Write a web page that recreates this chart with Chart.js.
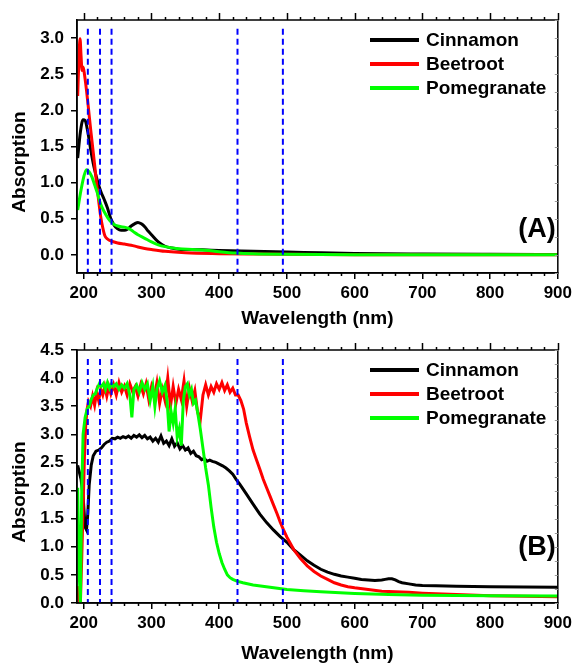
<!DOCTYPE html>
<html>
<head>
<meta charset="utf-8">
<script src="https://cdn.jsdelivr.net/npm/chart.js@4"></script>
<style>
  body { margin: 0; background: #fff; }
  canvas { position: absolute; left: 0; }
  #chartA { top: 0; }
  #chartB { top: 330px; }
</style>
</head>
<body>
<canvas id="chartA" width="576" height="330"></canvas>
<canvas id="chartB" width="576" height="336"></canvas>
<script>
const seriesNames = ["Cinnamon", "Beetroot", "Pomegranate"];
const seriesColors = ["#000000", "#ff0000", "#00ff00"];
const xTicks = [200, 300, 400, 500, 600, 700, 800, 900];
const yTicksA = [0, 0.5, 1, 1.5, 2, 2.5, 3];
const yTicksB = [0, 0.5, 1, 1.5, 2, 2.5, 3, 3.5, 4, 4.5];
const markerLines = [206, 224, 241, 427, 494];

// (A)
const wlCinA = [191,195,199,202,206,210,215,220,225,230,235,240,245,250,255,260,265,270,275,280,285,290,295,300,310,320,330,340,350,375,400,450,500,550,600,700,800,900];
const absCinA = [1.34,1.70,1.87,1.86,1.70,1.47,1.22,1.03,0.88,0.77,0.65,0.50,0.41,0.36,0.34,0.34,0.36,0.40,0.43,0.45,0.43,0.39,0.33,0.28,0.18,0.12,0.095,0.08,0.075,0.07,0.062,0.05,0.04,0.03,0.02,0.012,0.008,0.006];
const wlBeeA = [191,193,194.5,196,197.5,199,201,204,207,210,213,216,219,222,225,228,231,235,241,250,260,270,280,290,300,320,350,400,450,500,600,900];
const absBeeA = [2.2,2.75,2.99,2.75,2.55,2.6,2.5,2.28,2.02,1.75,1.5,1.25,0.98,0.75,0.53,0.38,0.27,0.22,0.19,0.165,0.15,0.135,0.11,0.09,0.075,0.05,0.03,0.018,0.012,0.008,0.004,0.002];
const wlPomA = [191,195,200,204,208,212,216,220,225,230,235,240,245,250,255,260,265,270,275,280,290,300,310,320,340,360,380,400,425,450,500,600,900];
const absPomA = [0.62,0.85,1.08,1.18,1.15,1.08,0.97,0.86,0.70,0.6,0.52,0.46,0.42,0.40,0.39,0.385,0.37,0.345,0.31,0.28,0.23,0.18,0.14,0.115,0.085,0.075,0.065,0.045,0.025,0.015,0.008,0.004,0.003];

// (B)
const wlCinB = [191,193,196,199,202,204,206,208,211,214,218,222,226,230,234,238,242,246,250,254,258,262,266,270,274,278,282,286,290,294,298,302,306,310,314,318,322,326,330,334,338,342,346,350,354,358,362,366,370,374,378,382,386,390,395,400,405,410,415,420,425,430,435,440,450,460,470,480,490,500,510,520,530,540,550,560,570,580,590,600,610,620,630,640,645,650,655,660,665,670,680,690,700,720,750,800,850,900];
const absCinB = [2.45,2.35,2.2,1.9,1.35,1.3,1.6,2.1,2.45,2.62,2.7,2.72,2.76,2.82,2.86,2.88,2.93,2.92,2.95,2.93,2.96,2.94,2.97,2.93,2.98,2.95,2.99,2.94,2.98,2.92,2.95,2.88,2.93,2.86,2.97,2.84,2.88,2.80,2.92,2.79,2.85,2.74,2.80,2.72,2.76,2.66,2.70,2.62,2.60,2.55,2.57,2.52,2.54,2.52,2.50,2.47,2.44,2.40,2.35,2.29,2.20,2.12,2.03,1.94,1.76,1.58,1.43,1.30,1.18,1.08,0.95,0.85,0.75,0.67,0.60,0.55,0.51,0.48,0.46,0.44,0.42,0.41,0.40,0.41,0.42,0.43,0.43,0.41,0.38,0.36,0.34,0.32,0.31,0.305,0.30,0.29,0.285,0.28];
const wlBeeB = [191,193,195,197,199,201,203,205,207,210,213,216,219,222,225,228,231,234,237,240,244,248,252,256,260,264,268,272,276,280,284,288,292,296,300,304,308,312,316,320,324,328,332,336,340,344,348,352,356,360,364,368,372,376,380,384,388,392,396,400,404,408,412,416,420,424,428,432,436,440,445,450,455,460,465,470,475,480,485,490,495,500,510,520,530,540,550,560,570,580,590,600,620,640,660,680,700,750,800,850,900];
const absBeeB = [0.3,0.05,0.0,0.8,1.7,2.6,3.2,3.45,3.58,3.5,3.68,3.52,3.75,3.6,3.8,3.7,3.85,3.68,3.85,3.72,3.88,3.7,3.92,3.75,3.86,3.7,3.9,3.76,3.85,3.68,3.88,3.72,3.9,3.62,3.85,3.66,3.92,3.55,3.8,3.6,4.0,3.5,3.85,3.55,3.8,3.62,3.95,3.5,3.82,3.6,3.78,3.4,3.25,3.7,3.88,3.7,3.85,3.75,3.9,3.8,3.92,3.78,3.88,3.75,3.82,3.7,3.7,3.6,3.45,3.2,2.95,2.72,2.55,2.38,2.2,2.05,1.9,1.75,1.6,1.44,1.3,1.17,0.95,0.79,0.66,0.56,0.48,0.42,0.36,0.32,0.29,0.27,0.24,0.21,0.2,0.19,0.175,0.15,0.13,0.12,0.11];
const wlPomB = [191,193,195,197,199,202,205,208,211,214,217,220,223,226,229,232,235,238,241,244,248,252,256,260,264,268,271,274,278,282,286,290,294,298,302,305,308,312,316,320,323,326,329,332,335,338,341,344,347,350,353,356,359,362,365,368,372,376,380,384,388,392,396,400,404,408,412,416,420,426,435,450,475,500,525,550,600,650,700,800,900];
const absPomB = [2.05,0.6,0.0,2.0,3.0,3.3,3.45,3.5,3.62,3.7,3.72,3.82,3.9,3.85,3.9,3.8,3.92,3.82,3.9,3.85,3.9,3.8,3.88,3.82,3.9,3.7,3.3,3.8,3.88,3.75,3.92,3.8,3.9,3.6,3.85,3.5,3.8,3.95,3.75,3.87,3.6,3.05,3.4,3.2,3.45,2.95,3.1,2.8,3.6,3.85,3.9,3.7,3.8,3.55,3.6,3.4,3.1,2.75,2.4,2.1,1.7,1.35,1.08,0.88,0.72,0.6,0.5,0.45,0.42,0.39,0.36,0.32,0.28,0.24,0.22,0.2,0.17,0.15,0.14,0.13,0.125];

const FONT = "'Liberation Sans', Arial, sans-serif";

function curve(i, xs, ys, smooth) {
  return {
    label: seriesNames[i],
    data: xs.map((x, k) => ({ x: x, y: ys[k] })),
    borderColor: seriesColors[i],
    borderWidth: 3,
    pointRadius: 0,
    fill: false,
    tension: 0,
    cubicInterpolationMode: smooth ? "monotone" : "default",
    order: 3 - i,
  };
}

function markers(yTop, yBottom) {
  return markerLines.map((x) => ({
    label: "",
    data: [{ x: x, y: yTop }, { x: x, y: yBottom }],
    borderColor: "#0000ff",
    borderWidth: 2,
    borderDash: [6, 4],
    pointRadius: 0,
    order: 0,
  }));
}

// frame, minor ticks, y title, panel tag, legend
const decorPlugin = {
  id: "decor",
  afterDraw(chart, args, opts) {
    const { ctx, chartArea: a } = chart;
    const xs = chart.scales.x, ys = chart.scales.y;
    ctx.save();
    ctx.strokeStyle = "#000";
    ctx.lineWidth = 1.5;
    ctx.strokeRect(a.left, a.top, a.right - a.left, a.bottom - a.top);
    ctx.beginPath();
    for (let v = 200; v <= 900; v += 20) {
      const px = Math.round(xs.getPixelForValue(v)) + 0.5;
      const major = v % 100 === 0;
      ctx.moveTo(px, a.top);
      ctx.lineTo(px, a.top - (major ? 7 : 3));
      if (!major) {
        ctx.moveTo(px, a.bottom);
        ctx.lineTo(px, a.bottom + 3);
      }
    }
    ctx.stroke();

    ctx.beginPath();
    ctx.strokeStyle = "#999";
    ctx.lineWidth = 1;
    for (let v = Math.ceil(ys.min / 0.25) * 0.25; v <= ys.max; v += 0.25) {
      const py = Math.round(ys.getPixelForValue(v)) + 0.5;
      ctx.moveTo(a.right, py);
      ctx.lineTo(a.right - 3, py);
    }
    ctx.stroke();

    ctx.fillStyle = "#000";
    ctx.textBaseline = "middle";
    ctx.font = "bold 19px " + FONT;
    ctx.save();
    ctx.translate(20, 162);
    ctx.rotate(-Math.PI / 2);
    ctx.textAlign = "center";
    ctx.fillText("Absorption", 0, 0);
    ctx.restore();

    ctx.font = "bold 27px " + FONT;
    ctx.textAlign = "center";
    ctx.fillText(opts.tag, 537, opts.tagY);

    ctx.font = "bold 19px " + FONT;
    ctx.textAlign = "left";
    seriesNames.forEach((name, i) => {
      const y = 40 + i * 24;
      ctx.strokeStyle = seriesColors[i];
      ctx.lineWidth = 4;
      ctx.beginPath();
      ctx.moveTo(370, y);
      ctx.lineTo(419, y);
      ctx.stroke();
      ctx.fillText(name, 426, y + 1);
    });
    ctx.restore();
  },
};

function makeChart(id, datasets, yMin, yMax, yTicks, xHeight, titlePad, tag, tagY) {
  return new Chart(document.getElementById(id), {
    type: "line",
    data: { datasets: datasets },
    options: {
      responsive: false,
      animation: false,
      devicePixelRatio: 1,
      layout: { padding: { top: 20, right: 17, left: 0, bottom: 0 } },
      plugins: {
        legend: { display: false },
        tooltip: { enabled: false },
        decor: { tag: tag, tagY: tagY },
      },
      scales: {
        x: {
          type: "linear",
          min: 190,
          max: 900,
          afterBuildTicks: (s) => { s.ticks = xTicks.map((v) => ({ value: v })); },
          afterFit: (s) => { s.height = xHeight; },
          grid: { drawOnChartArea: false, drawTicks: true, tickLength: 6, color: "#000", lineWidth: 1.5 },
          border: { display: true, color: "#000", width: 1.5 },
          ticks: { color: "#000", padding: 4, maxRotation: 0, font: { family: FONT, size: 17, weight: "bold" } },
          title: {
            display: true,
            text: "Wavelength (nm)",
            color: "#000",
            padding: { top: 0, bottom: titlePad },
            font: { family: FONT, size: 19, weight: "bold" },
          },
        },
        y: {
          type: "linear",
          min: yMin,
          max: yMax,
          afterBuildTicks: (s) => { s.ticks = yTicks.map((v) => ({ value: v })); },
          afterFit: (s) => { s.width = 77; },
          grid: { drawOnChartArea: false, drawTicks: true, tickLength: 6, color: "#000", lineWidth: 1.5 },
          border: { display: true, color: "#000", width: 1.5 },
          ticks: {
            color: "#000",
            padding: 7,
            font: { family: FONT, size: 17, weight: "bold" },
            callback: (v) => Number(v).toFixed(1),
          },
        },
      },
    },
    plugins: [decorPlugin],
  });
}

makeChart("chartA", [
  ...markers(3.13, -0.3),
  curve(0, wlCinA, absCinA, true),
  curve(1, wlBeeA, absBeeA, true),
  curve(2, wlPomA, absPomA, true),
], -0.25, 3.25, yTicksA, 57, 0, "(A)", 230);

makeChart("chartB", [
  ...markers(4.34, -0.1),
  curve(0, wlCinB, absCinB, false),
  curve(1, wlBeeB, absBeeB, false),
  curve(2, wlPomB, absPomB, false),
], 0, 4.5, yTicksB, 63, 1, "(B)", 218);
</script>
</body>
</html>
